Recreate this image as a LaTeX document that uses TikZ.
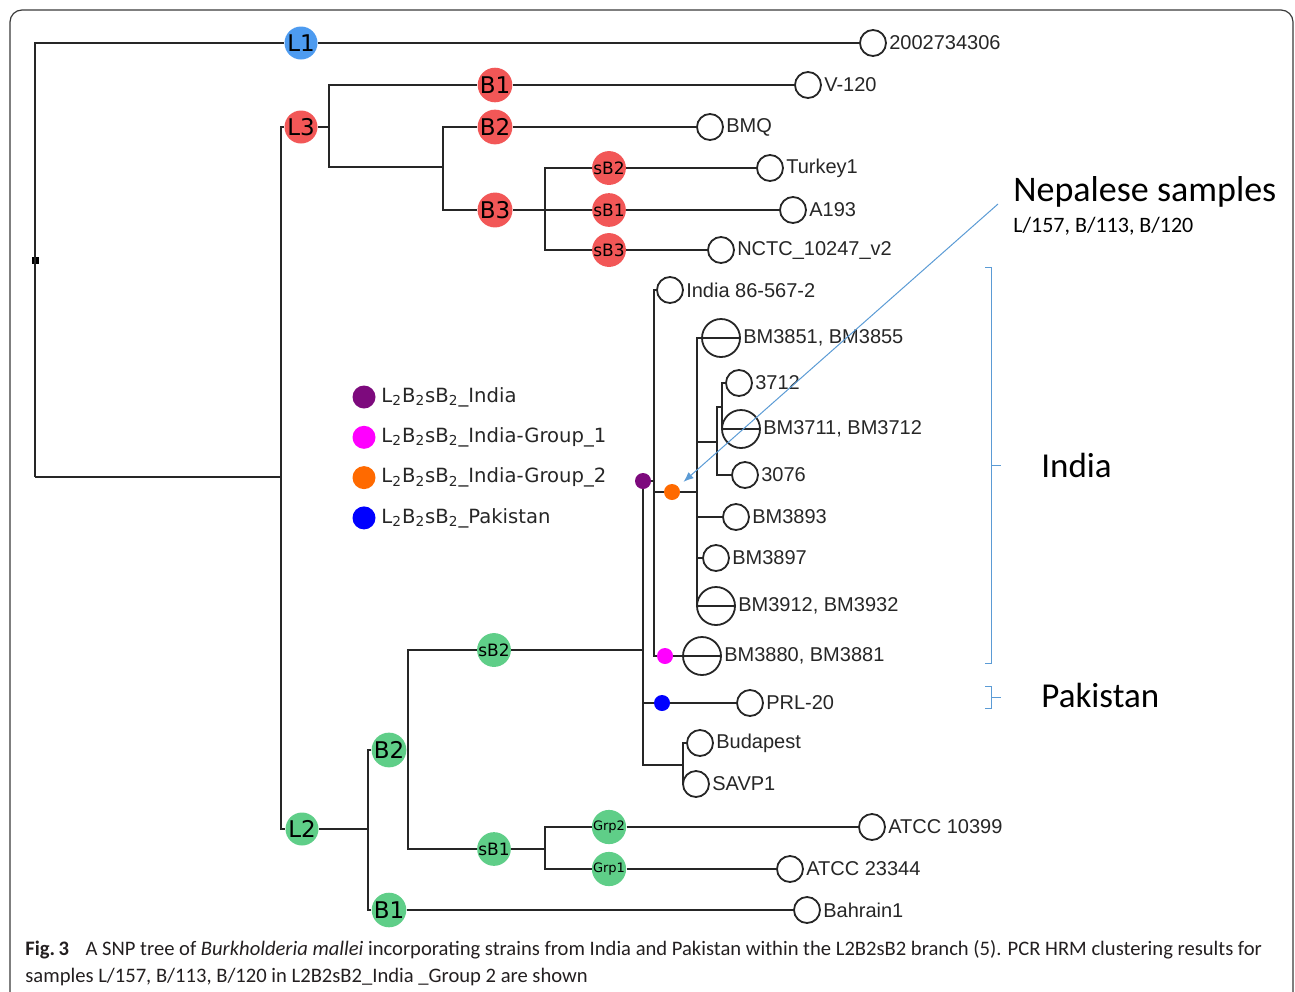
\documentclass[tikz,border=0pt]{standalone}
\usepackage{fontspec}
\setmainfont{Liberation Sans}
\newfontfamily\verdfont{DejaVu Sans}
\newfontfamily\calfont{Carlito}
\usetikzlibrary{arrows.meta}
\definecolor{linblue}{HTML}{4D9BF0}
\definecolor{linred}{HTML}{F25757}
\definecolor{lingreen}{HTML}{5FCE88}
\definecolor{tipurple}{HTML}{7D0A7D}
\definecolor{timagenta}{HTML}{FF00FF}
\definecolor{tiorange}{HTML}{FF6A00}
\definecolor{tiblue}{HTML}{0000FF}
\definecolor{notecol}{HTML}{5B9BD5}
\definecolor{framecol}{HTML}{3A3A3A}
\definecolor{captext}{HTML}{231F20}
\newcommand{\lbb}{L\textsubscript{2}B\textsubscript{2}sB\textsubscript{2}\_}

\begin{document}
\begin{tikzpicture}[x=0.5pt, y=-0.5pt,
    br/.style={line width=1pt, draw=black!85},
    clade/.style={circle, fill=#1, inner sep=0pt, minimum size=16.5pt, font=\verdfont\fontsize{11.5}{12}\selectfont},
    subclade/.style={clade=#1, minimum size=15.5pt, font=\verdfont\fontsize{8.5}{9}\selectfont},
    grpnode/.style={clade=#1, minimum size=15.5pt, font=\verdfont\fontsize{6.5}{7}\selectfont},
    leafnode/.style={circle, draw=black!85, line width=0.9pt, inner sep=0pt, minimum size=13pt},
    pairnode/.style={leafnode, minimum size=19pt, path picture={\draw[line width=0.9pt, black!85] (path picture bounding box.west) -- (path picture bounding box.east);}},
    tipdot/.style={circle, fill=#1, inner sep=0pt, minimum size=8pt},
    lbl/.style={font=\fontsize{10}{12}\selectfont, inner sep=1pt, text=black!85},
    notetext/.style={anchor=west, inner sep=0pt, font=\calfont\fontsize{#1}{#1}\selectfont}
]
    \useasboundingbox (0,0) rectangle (1295,991);
    \draw[framecol, line width=0.6pt, rounded corners=6pt] (10,10) rectangle (1293,1004);

    % root
    \coordinate (r0) at (35,477);
    \coordinate (j2) at (281,477);
    \node[fill=black, minimum size=3.5pt, inner sep=0pt] (rsq) at (35,260) {};

    % L1
    \node[clade=linblue] (l1) at (301,43) {L1};
    \node[leafnode, label={[lbl]east:2002734306}] (t2002) at (873,43) {};
    \draw[br] (r0) |- (l1) -- (t2002);
    \draw[br] (r0) -- (j2);

    % L3
    \node[clade=linred] (l3) at (301,127) {L3};
    \coordinate (j3) at (329,127);
    \coordinate (j3b) at (443,167);
    \coordinate (j3c) at (545,210);
    \node[clade=linred] (b1r) at (495,85) {B1};
    \node[clade=linred] (b2r) at (495,127) {B2};
    \node[clade=linred] (b3r) at (495,210) {B3};
    \node[subclade=linred] (sb2r) at (609,168) {sB2};
    \node[subclade=linred] (sb1r) at (609,210) {sB1};
    \node[subclade=linred] (sb3r) at (609,250) {sB3};
    \node[leafnode, label={[lbl]east:V-120}] (tv120) at (808,85) {};
    \node[leafnode, label={[lbl]east:BMQ}] (tbmq) at (710,127) {};
    \node[leafnode, label={[lbl]east:Turkey1}] (ttur) at (770,168) {};
    \node[leafnode, label={[lbl]east:A193}] (ta193) at (793,210) {};
    \node[leafnode, label={[lbl]east:NCTC\_10247\_v2}] (tnctc) at (721,250) {};
    \draw[br] (j2) |- (l3) -- (j3);
    \draw[br] (j3) |- (b1r) -- (tv120);
    \draw[br] (j3) |- (j3b) |- (b2r) -- (tbmq);
    \draw[br] (j3b) |- (b3r) -- (j3c);
    \draw[br] (j3c) |- (sb2r) -- (ttur);
    \draw[br] (j3c) -- (sb1r) -- (ta193);
    \draw[br] (j3c) |- (sb3r) -- (tnctc);

    % L2
    \node[clade=lingreen] (l2) at (302,829) {L2};
    \node[clade=lingreen] (b2g) at (389,750) {B2};
    \node[clade=lingreen] (b1g) at (389,910) {B1};
    \node[subclade=lingreen] (sb2g) at (494,650) {sB2};
    \node[subclade=lingreen] (sb1g) at (494,849) {sB1};
    \node[grpnode=lingreen] (grp2) at (609,827) {Grp2};
    \node[grpnode=lingreen] (grp1) at (609,869) {Grp1};
    \coordinate (j4) at (368,829);
    \coordinate (j5) at (408,750);
    \coordinate (j6) at (545,849);
    \node[leafnode, label={[lbl]east:ATCC 10399}] (tatc1) at (872,827) {};
    \node[leafnode, label={[lbl]east:ATCC 23344}] (tatc2) at (790,869) {};
    \node[leafnode, label={[lbl]east:Bahrain1}] (tbah) at (807,910) {};
    \draw[br] (j2) |- (l2) -- (j4);
    \draw[br] (j4) |- (b2g) -- (j5);
    \draw[br] (j4) |- (b1g) -- (tbah);
    \draw[br] (j5) |- (sb1g) -- (j6);
    \draw[br] (j6) |- (grp2) -- (tatc1);
    \draw[br] (j6) |- (grp1) -- (tatc2);

    % L2B2sB2
    \coordinate (j7) at (643,650);
    \coordinate (j8) at (643,765);
    \coordinate (j9) at (683,765);
    \coordinate (j10) at (643,703);
    \coordinate (j11) at (654,481);
    \coordinate (j12) at (654,492);
    \coordinate (j13) at (697,492);
    \coordinate (j14) at (697,442);
    \coordinate (j15) at (717,442);
    \coordinate (j17) at (722,407);
    \node[leafnode, label={[lbl]east:India 86-567-2}] (tind) at (670,290) {};
    \node[pairnode, label={[lbl]east:{BM3851, BM3855}}] (tbm3851) at (721,338) {};
    \node[leafnode, label={[lbl]east:3712}] (t3712) at (739,383) {};
    \node[pairnode, label={[lbl]east:{BM3711, BM3712}}] (tbm3711) at (741,429) {};
    \node[leafnode, label={[lbl]east:3076}] (t3076) at (745,475) {};
    \node[leafnode, label={[lbl]east:BM3893}] (tbm3893) at (736,517) {};
    \node[leafnode, label={[lbl]east:BM3897}] (tbm3897) at (716,558) {};
    \node[pairnode, label={[lbl]east:{BM3912, BM3932}}] (tbm3912) at (716,606) {};
    \node[pairnode, label={[lbl]east:{BM3880, BM3881}}] (tbm3880) at (702,656) {};
    \node[leafnode, label={[lbl]east:PRL-20}] (tprl) at (750,703) {};
    \node[leafnode, label={[lbl]east:Budapest}] (tbud) at (700,743) {};
    \node[leafnode, label={[lbl]east:SAVP1}] (tsav) at (696,784) {};
    \draw[br] (j5) |- (sb2g) -- (j7);
    \draw[br] (j11) -- (643,481) -- (j8) -- (j9);
    \draw[br] (j9) |- (tbud);
    \draw[br] (j9) |- (tsav);
    \draw[br] (j10) -- (tprl);
    \draw[br] (j11) |- (tind);
    \draw[br] (j11) |- (tbm3880);
    \draw[br] (j12) -- (j13);
    \draw[br] (j13) |- (tbm3851);
    \draw[br] (j13) |- (tbm3912);
    \draw[br] (j13) |- (tbm3893);
    \draw[br] (j13) |- (tbm3897);
    \draw[br] (j14) -- (j15) |- (t3076);
    \draw[br] (j15) |- (j17) |- (t3712);
    \draw[br] (j17) |- (tbm3711);
    \node[tipdot=tipurple] (pdot) at (643,481) {};
    \node[tipdot=tiorange] (odot) at (672,492) {};
    \node[tipdot=timagenta] (mdot) at (665,656) {};
    \node[tipdot=tiblue] (bdot) at (662,703) {};

    % legend
    \foreach \c/\t [count=\i] in {tipurple/India, timagenta/India-Group\_1, tiorange/India-Group\_2, tiblue/Pakistan} {
        \node[circle, fill=\c, inner sep=0pt, minimum size=11.5pt] (lg\i) at (364,{397+40.3*(\i-1)}) {};
        \node[anchor=west, inner sep=0pt, font=\verdfont\fontsize{9.8}{11}\selectfont, text=black!85] (lt\i) at (381,{397+40.3*(\i-1)}) {\lbb\t};
    }

    % notes
    \coordinate (nepend) at (998,204);
    \draw[notecol, line width=0.5pt, -{Latex[length=5pt,width=4pt]}, shorten >=3.5pt] (nepend) -- (odot);
    \node[notetext=18] (nephead) at (1013,192) {Nepalese samples};
    \node[notetext=11] (nepids) at (1013,226) {L/157, B/113, B/120};
    \draw[notecol, line width=0.5pt] (985,267) -- (991,267) -- (991,663) -- (985,663) (991,465) -- (1001,465);
    \draw[notecol, line width=0.5pt] (985,686) -- (991,686) -- (991,708) -- (985,708) (991,697) -- (1001,697);
    \node[notetext=17.5] (indtxt) at (1041,465) {India};
    \node[notetext=17.5] (paktxt) at (1041,695) {Pakistan};

    % caption
    \node[anchor=base west, inner sep=0pt, text=captext, font=\calfont\fontsize{10.3}{12}\selectfont] (cap1) at (25,955)
        {\textbf{Fig.\,3}\hspace{0.8em}A SNP tree of \textit{Burkholderia mallei} incorporating strains from India and Pakistan within the L2B2sB2 branch (5). PCR HRM clustering results for};
    \node[anchor=base west, inner sep=0pt, text=captext, font=\calfont\fontsize{10.3}{12}\selectfont] (cap2) at (25,982)
        {samples L/157, B/113, B/120 in L2B2sB2\_India \_Group 2 are shown};
\end{tikzpicture}
\end{document}
